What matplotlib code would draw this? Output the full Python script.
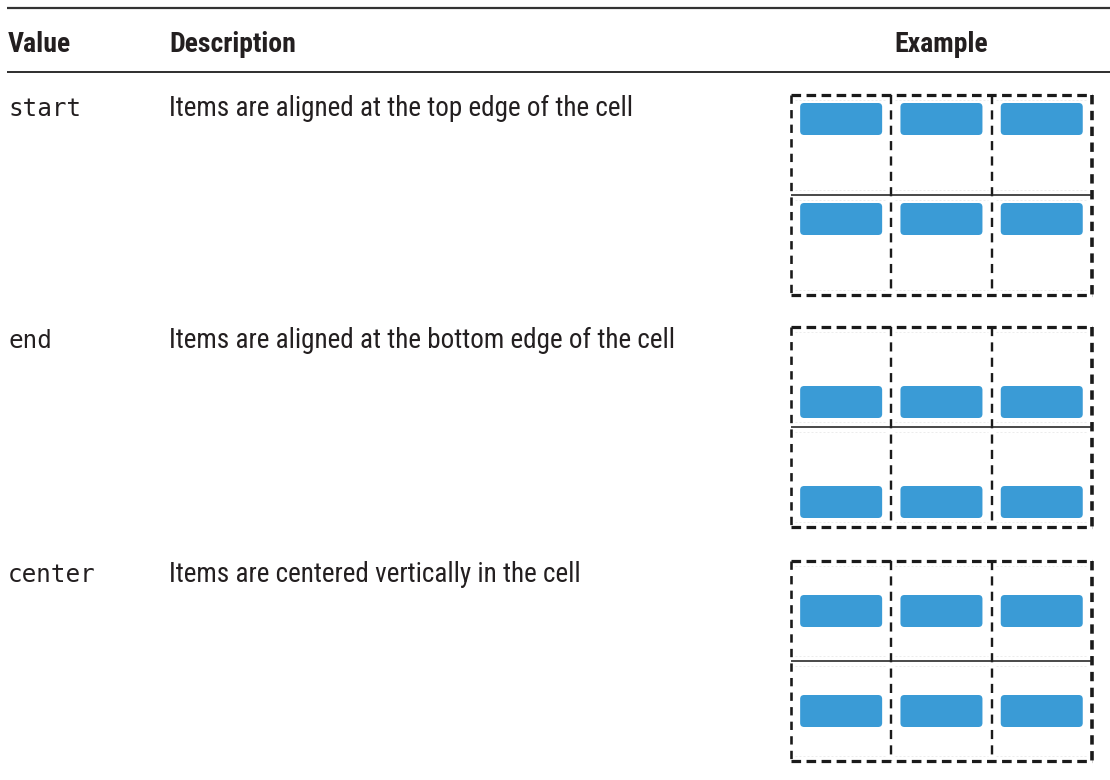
import matplotlib
matplotlib.use("Agg")
import matplotlib.pyplot as plt
from matplotlib.patches import FancyBboxPatch
from matplotlib import font_manager

# ---- data ----
headers = ["Value", "Description", "Example"]
values = ["start", "end", "center"]
descriptions = [
    "Items are aligned at the top edge of the cell",
    "Items are aligned at the bottom edge of the cell",
    "Items are centered vertically in the cell",
]
alignments = ["start", "end", "center"]
grid_rows = 2
grid_cols = 3

# ---- fonts ----
names = {f.name for f in font_manager.fontManager.ttflist}
condensed_found = any(n in names for n in ["Roboto Condensed", "Liberation Sans Narrow"])
narrow = [n for n in ["Roboto Condensed", "Liberation Sans Narrow", "Roboto", "DejaVu Sans"] if n in names]
mono = ["DejaVu Sans Mono"]
desc_size = 19.5 if condensed_found else 18
head_size = 20 if condensed_found else 18.5

W, H = 1110, 780
fig = plt.figure(figsize=(W / 100, H / 100), dpi=100)
ax = fig.add_axes([0, 0, 1, 1])
ax.set_xlim(0, W)
ax.set_ylim(H, 0)
ax.axis("off")

px = 72 / 100  # points per pixel
text_color = "#231f20"

# rules
ax.plot([7, W], [7.5, 7.5], color="#333333", lw=2.2 * px, solid_capstyle="butt")
ax.plot([7, W], [72, 72], color="#333333", lw=2.0 * px, solid_capstyle="butt")

# header
col_x = [8, 169]
ax.text(col_x[0], 52, headers[0], fontsize=head_size, fontweight="bold", family=narrow,
        color=text_color, va="baseline", ha="left")
ax.text(col_x[1], 52, headers[1], fontsize=head_size, fontweight="bold", family=narrow,
        color=text_color, va="baseline", ha="left")

grid_left = 791
cell_w = 100.3
cell_h = 100
grid_tops = [95, 327, 561]
ax.text(grid_left + grid_cols * cell_w / 2, 52, headers[2], fontsize=head_size, fontweight="bold",
        family=narrow, color=text_color, va="baseline", ha="center")

bar_color = "#3a9bd6"
bar_w = 82
bar_h = 32
inset = 9

for i, (val, desc, align) in enumerate(zip(values, descriptions, alignments)):
    top = grid_tops[i]
    base = top + 21
    ax.text(col_x[0], base, val, fontsize=17.5, family=mono, color=text_color,
            va="baseline", ha="left")
    ax.text(col_x[1], base, desc, fontsize=desc_size, family=narrow, color=text_color,
            va="baseline", ha="left")

    left = grid_left
    right = grid_left + grid_cols * cell_w
    bottom = top + grid_rows * cell_h

    # faint inner cell borders
    for r in range(grid_rows):
        for c in range(grid_cols):
            x0 = left + c * cell_w
            y0 = top + r * cell_h
            ax.plot([x0 + 4, x0 + cell_w - 4], [y0 + 5, y0 + 5], color="#ececec",
                    lw=1.0 * px, ls=(0, (2, 2)))
            ax.plot([x0 + 4, x0 + cell_w - 4], [y0 + cell_h - 5, y0 + cell_h - 5],
                    color="#ececec", lw=1.0 * px, ls=(0, (2, 2)))

    # outer dashed border
    lw_out = 3.2 * px
    ax.plot([left, right], [top, top], color="#1a1a1a", lw=lw_out, ls=(0, (3.0, 1.7)), dash_capstyle="butt")
    ax.plot([left, right], [bottom, bottom], color="#1a1a1a", lw=lw_out, ls=(0, (3.0, 1.7)), dash_capstyle="butt")
    ax.plot([left, left], [top, bottom], color="#1a1a1a", lw=2.6 * px, ls=(0, (3.2, 2.4)), dash_capstyle="butt")
    ax.plot([right, right], [top, bottom], color="#1a1a1a", lw=3.6 * px, ls=(0, (2.6, 1.8)), dash_capstyle="butt")
    # inner verticals
    for c in range(1, grid_cols):
        xv = left + c * cell_w
        ax.plot([xv, xv], [top, bottom], color="#1a1a1a", lw=2.4 * px, ls=(0, (3.8, 2.6)), dash_capstyle="butt")
    # middle horizontal (solid thin)
    for r in range(1, grid_rows):
        yh = top + r * cell_h
        ax.plot([left, right], [yh, yh], color="#222222", lw=1.6 * px, solid_capstyle="butt")

    # items
    for r in range(grid_rows):
        for c in range(grid_cols):
            x0 = left + c * cell_w
            y0 = top + r * cell_h
            if align == "start":
                by = y0 + inset - 1
            elif align == "end":
                by = y0 + cell_h - inset - bar_h
            else:
                by = y0 + (cell_h - bar_h) / 2
            bx = x0 + (cell_w - bar_w) / 2
            ax.add_patch(FancyBboxPatch((bx, by), bar_w, bar_h,
                                        boxstyle="round,pad=0,rounding_size=4",
                                        facecolor=bar_color, edgecolor="none"))

fig.savefig("out.png", dpi=100)
